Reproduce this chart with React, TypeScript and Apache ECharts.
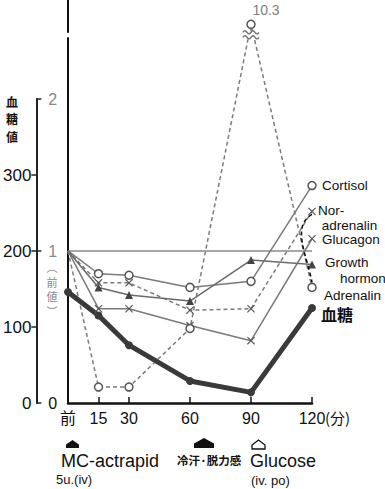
import React, { useEffect, useRef } from 'react';
import * as echarts from 'echarts';

// ---- data ----
const times = [0, 15, 30, 60, 90, 120];
const timeLabels = ['前', '15', '30', '60', '90', '120'];
const timeTicks = [15, 30, 60, 90, 120];
const bloodSugar = [146, 115, 76, 29, 14, 125]; // mg/dl
const cortisol = [1, 0.85, 0.84, 0.76, 0.8, 1.43]; // ratio to 前値
const norAdrenalin = [1, 0.79, 0.79, 0.61, 0.62, 1.26];
const glucagon = [1, 0.62, 0.62, 0.51, 0.41, 1.08];
const growthHormone = [1, 0.76, 0.71, 0.67, 0.94, 0.91];
const adrenalin = [1, 0.105, 0.105, 0.49, 10.3, 0.76];
const refLevel = 1;
const sugarTickValues = [100, 200, 300];
const sugarLabelValues = [0, 100, 200, 300];
const ratioTickValues = [0, 1, 2];

const FONT = "'Liberation Sans', 'Noto Sans CJK JP', sans-serif";
const CJK = "'Noto Sans CJK JP', 'Liberation Sans', sans-serif";
const LINE = '#7a7a7a';
const MARK = '#555555';
const X_SYMBOL = 'path://M0,1L1,0L5,4L9,0L10,1L6,5L10,9L9,10L5,6L1,10L0,9L4,5Z';

const toData = (vals: number[]) =>
  times.map((t, i) => (i === 0 ? { value: [t, vals[i]], symbol: 'none' } : [t, vals[i]]));

export default function App() {
  const ref = useRef<HTMLDivElement>(null);
  useEffect(() => {
    const el = ref.current!;
    const chart = echarts.init(el, null, { renderer: 'svg' });

    const endLabel = (text: string, dx: number, dy: number, extra: any = {}) => ({
      show: true,
      formatter: text,
      color: '#111',
      fontSize: 13.5,
      fontFamily: FONT,
      distance: 0,
      offset: [dx, dy],
      lineHeight: 15,
      ...extra,
    });

    const adrData: any[] = toData(adrenalin);
    adrData[4] = {
      value: [times[4], adrenalin[4]],
      label: {
        show: true,
        formatter: String(adrenalin[4]),
        position: 'top',
        offset: [15, 2],
        color: '#808080',
        fontSize: 14,
        fontFamily: FONT,
      },
    };

    const option: any = {
      animation: false,
      backgroundColor: '#fff',
      grid: [
        { left: 68, right: 73, top: 0, bottom: 86 },
        { left: 36, width: 1, top: 99, bottom: 86 },
      ],
      xAxis: [
        {
          gridIndex: 0,
          type: 'value',
          min: 0,
          max: 120,
          axisLine: { show: true, lineStyle: { color: '#111', width: 2.5 } },
          axisTick: {
            show: true,
            inside: true,
            length: 6,
            customValues: timeTicks,
            lineStyle: { color: '#111', width: 1.5 },
          },
          axisLabel: {
            customValues: times,
            formatter: (v: number) => timeLabels[times.indexOf(v)] ?? '',
            color: '#111',
            fontSize: 16,
            fontFamily: FONT,
            margin: 7,
          },
          splitLine: { show: false },
        },
        { gridIndex: 1, type: 'value', min: 0, max: 1, show: false },
      ],
      yAxis: [
        {
          gridIndex: 0,
          type: 'value',
          min: 0,
          max: 10.46,
          breaks: [{ start: 2.4, end: 10.25, gap: 0.04 }],
          breakArea: { show: false },
          axisLine: { show: true, lineStyle: { color: '#111', width: 2 } },
          axisTick: { show: false },
          axisLabel: { show: false },
          splitLine: { show: false },
        },
        { gridIndex: 0, type: 'value', min: 0, max: 530, show: false },
        {
          gridIndex: 1,
          type: 'value',
          position: 'left',
          min: 0,
          max: 400,
          axisLine: { show: true, lineStyle: { color: '#222', width: 2 } },
          axisTick: {
            show: true,
            length: 5,
            customValues: sugarTickValues,
            lineStyle: { color: '#222', width: 1.5 },
          },
          axisLabel: {
            customValues: sugarLabelValues,
            color: '#111',
            fontSize: 17,
            fontFamily: FONT,
            margin: 5,
          },
          splitLine: { show: false },
        },
        {
          gridIndex: 1,
          type: 'value',
          position: 'left',
          min: 0,
          max: 2,
          axisLine: { show: false },
          axisTick: {
            show: true,
            inside: true,
            length: 5,
            customValues: ratioTickValues,
            lineStyle: { color: '#222', width: 1.5 },
          },
          axisLabel: {
            inside: true,
            customValues: ratioTickValues,
            color: (v: any) => (Number(v) === 0 ? '#111' : '#8a8a8a'),
            fontSize: 16,
            fontFamily: FONT,
            margin: 12,
          },
          splitLine: { show: false },
        },
      ],
      series: [
        {
          name: 'ref',
          type: 'line',
          xAxisIndex: 0,
          yAxisIndex: 0,
          data: [
            [times[0], refLevel],
            [times[times.length - 1], refLevel],
          ],
          symbol: 'none',
          silent: true,
          lineStyle: { color: '#8a8a8a', width: 1.5 },
          z: 1,
        },
        {
          name: 'Cortisol',
          type: 'line',
          xAxisIndex: 0,
          yAxisIndex: 0,
          data: toData(cortisol),
          symbol: 'circle',
          symbolSize: 8,
          itemStyle: { color: '#fff', borderColor: MARK, borderWidth: 1.5 },
          lineStyle: { color: LINE, width: 1.5 },
          endLabel: endLabel('Cortisol', 10, 0),
        },
        {
          name: 'Nor-adrenalin',
          type: 'line',
          xAxisIndex: 0,
          yAxisIndex: 0,
          data: toData(norAdrenalin),
          symbol: X_SYMBOL,
          symbolSize: 8,
          itemStyle: { color: MARK },
          lineStyle: { color: LINE, width: 1.5, type: [4, 3] },
          endLabel: endLabel('Nor-\n adrenalin', 6, 7),
        },
        {
          name: 'Glucagon',
          type: 'line',
          xAxisIndex: 0,
          yAxisIndex: 0,
          data: toData(glucagon),
          symbol: X_SYMBOL,
          symbolSize: 8,
          itemStyle: { color: MARK },
          lineStyle: { color: LINE, width: 1.5 },
          endLabel: endLabel('Glucagon', 10, 1),
        },
        {
          name: 'Growth hormon',
          type: 'line',
          xAxisIndex: 0,
          yAxisIndex: 0,
          data: toData(growthHormone),
          symbol: 'triangle',
          symbolSize: 8,
          itemStyle: { color: '#444' },
          lineStyle: { color: '#6a6a6a', width: 1.5 },
          endLabel: endLabel('Growth\n    hormon', 13, 6, { lineHeight: 16 }),
        },
        {
          name: 'Adrenalin',
          type: 'line',
          xAxisIndex: 0,
          yAxisIndex: 0,
          data: adrData,
          symbol: 'circle',
          symbolSize: 8,
          itemStyle: { color: '#fff', borderColor: MARK, borderWidth: 1.5 },
          lineStyle: { color: LINE, width: 1.5, type: [4, 3] },
          endLabel: endLabel('Adrenalin', 12, 8.5),
        },
        {
          name: '血糖',
          type: 'line',
          xAxisIndex: 0,
          yAxisIndex: 1,
          data: times.map((t, i) => [t, bloodSugar[i]]),
          symbol: 'circle',
          symbolSize: 8,
          itemStyle: { color: '#3a3a3a' },
          lineStyle: { color: '#3a3a3a', width: 5 },
          z: 3,
          endLabel: endLabel('血糖', 9, 6.5, { fontSize: 16, fontWeight: 'bold', fontFamily: CJK }),
        },
      ],
    };

    chart.setOption(option);

    const px = (seriesIndex: number, x: number, y: number) =>
      chart.convertToPixel({ seriesIndex }, [x, y]) as number[];

    const last = times.length - 1;
    const n = px(2, times[last], norAdrenalin[last]);
    const a = px(5, times[last], adrenalin[last]);
    const peak = px(5, times[4], adrenalin[4]);
    const x120 = px(1, times[last], 0);

    const wave = (dy: number) => {
      const pts: number[][] = [];
      for (let i = 0; i <= 8; i++) {
        const x = peak[0] - 8 + i * 2;
        pts.push([x, peak[1] + dy + (i % 4 === 1 ? -1.5 : i % 4 === 3 ? 1.5 : 0)]);
      }
      return {
        type: 'polyline',
        z: 100,
        shape: { points: pts, smooth: 0.5 },
        style: { stroke: '#777', lineWidth: 1.5, fill: 'none' },
      };
    };

    const arrow = (cx: number, top: number, w: number, h: number, filled: boolean) => ({
      type: 'polygon',
      z: 100,
      shape: {
        points: [
          [cx - w / 2, top + h],
          [cx - w / 2, top + h * 0.55],
          [cx, top],
          [cx + w / 2, top + h * 0.55],
          [cx + w / 2, top + h],
        ],
      },
      style: filled
        ? { fill: '#111' }
        : { fill: '#fff', stroke: '#111', lineWidth: 1.3 },
    });

    const txt = (text: string, x: number, y: number, style: any) => ({
      type: 'text',
      z: 100,
      x,
      y,
      style: {
        text,
        fill: '#111',
        fontFamily: FONT,
        align: 'left',
        verticalAlign: 'middle',
        ...style,
      },
    });

    const vchars = (chars: string[], x: number, y0: number, step: number, style: any) =>
      chars.map((c, i) => txt(c, x, y0 + i * step, { align: 'center', ...style }));

    chart.setOption({
      graphic: [
        // bracket
        {
          type: 'bezierCurve',
          z: 100,
          shape: {
            x1: n[0],
            y1: n[1] + 3,
            cpx1: n[0] - 21,
            cpy1: n[1] + 15,
            cpx2: a[0] - 5,
            cpy2: a[1] - 32,
            x2: a[0],
            y2: a[1] - 5,
          },
          style: { stroke: '#111', lineWidth: 1.6, lineDash: [4, 3], fill: 'none' },
        },
        // axis break marks on adrenalin peak
        {
          type: 'rect',
          z: 99,
          shape: { x: peak[0] - 9, y: peak[1] + 6, width: 18, height: 9 },
          style: { fill: '#fff' },
        },
        wave(8),
        wave(13),
        {
          type: 'line',
          z: 100,
          shape: { x1: peak[0], y1: peak[1] + 4, x2: peak[0], y2: peak[1] + 7 },
          style: { stroke: '#777', lineWidth: 1.5 },
        },
        // unit after 120
        txt('(分)', x120[0] + 13, x120[1] + 14, { fontSize: 15, fontFamily: CJK }),
        // left titles
        ...vchars(['血', '糖', '値'], 12, 101, 17.5, {
          fontSize: 12,
          fontWeight: 'bold',
          fontFamily: CJK,
        }),
        ...vchars(['︵', '前', '値', '︶'], 52, 267, 14.5, {
          fontSize: 11,
          fill: '#8a8a8a',
          fontFamily: CJK,
        }),
        // bottom annotations
        arrow(72.5, 440, 13, 8, true),
        arrow(204, 438, 20, 10, true),
        arrow(258.5, 440, 13, 9, false),
        txt('MC-actrapid', 61, 461, { fontSize: 18 }),
        txt('5u.(iv)', 56, 479, { fontSize: 13 }),
        txt('冷汗·脱力感', 177, 460, { fontSize: 11.5, fontWeight: 'bold', fontFamily: CJK }),
        txt('Glucose', 250, 461, { fontSize: 18 }),
        txt('(iv. po)', 251, 480, { fontSize: 13 }),
      ],
    });

    return () => chart.dispose();
  }, []);

  return (
    <div
      ref={ref}
      style={{ position: 'fixed', left: 0, top: 0, width: 385, height: 489, background: '#fff' }}
    />
  );
}
